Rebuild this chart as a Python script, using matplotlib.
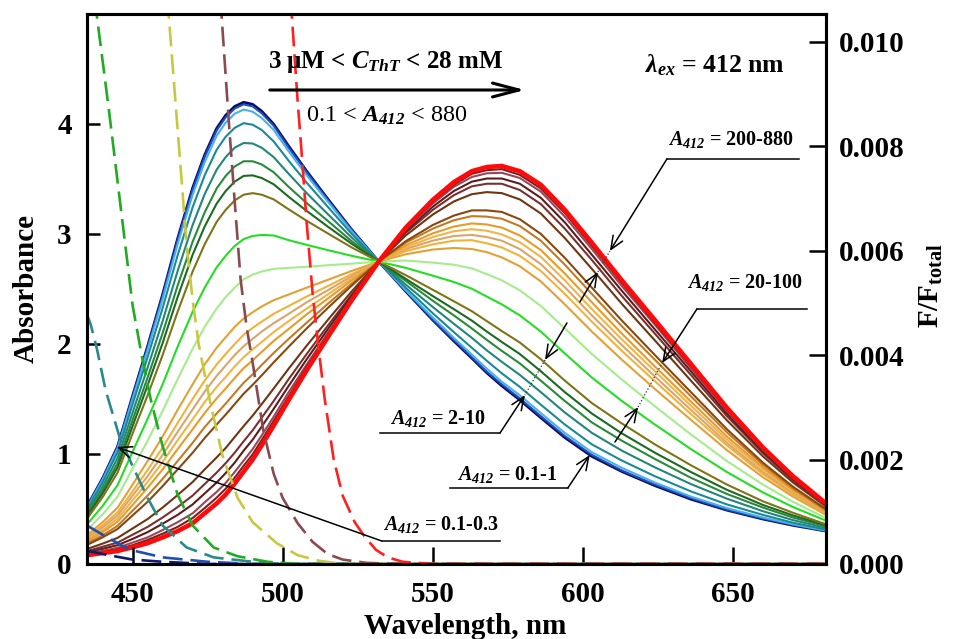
import numpy as np
import matplotlib
matplotlib.use('Agg')
import matplotlib.pyplot as plt

plt.rcParams['font.family'] = ['Liberation Serif', 'DejaVu Serif']
plt.rcParams['font.weight'] = 'bold'
plt.rcParams['axes.labelweight'] = 'bold'
plt.rcParams['mathtext.fontset'] = 'custom'
plt.rcParams['mathtext.it'] = 'Liberation Serif:italic:bold'
plt.rcParams['mathtext.cal'] = 'Liberation Serif:italic:bold'
plt.rcParams['mathtext.sf'] = 'Liberation Serif:italic'
plt.rcParams['mathtext.rm'] = 'Liberation Serif:bold'
plt.rcParams['mathtext.bf'] = 'Liberation Serif:bold'

# ---------------- data ----------------
# emission wavelengths (nm) for fluorescence spectra
wl = [435, 440, 445, 450, 455, 460, 465, 470, 474, 478, 481, 484, 487, 490, 493,
      497, 502, 508, 515, 523, 532, 541, 550, 557, 563, 568, 573, 579, 586, 594,
      603, 613, 624, 636, 648, 660, 670, 681]

# fluorescence spectra, F/F_total x 1e-3 (low -> high ThT concentration)
flu_navy    = [1.12,1.64,2.25,3.22,4.17,5.16,6.23,7.20,7.83,8.34,8.59,8.76,8.84,8.80,8.67,8.42,8.00,7.52,6.99,6.40,5.79,5.22,4.67,4.27,3.94,3.66,3.41,3.14,2.80,2.42,2.06,1.77,1.50,1.24,1.03,0.86,0.74,0.63]
flu_blue    = [1.11,1.63,2.24,3.20,4.15,5.13,6.20,7.16,7.79,8.30,8.55,8.72,8.80,8.76,8.63,8.39,7.97,7.50,6.97,6.39,5.79,5.23,4.68,4.29,3.96,3.68,3.44,3.17,2.83,2.45,2.09,1.79,1.52,1.26,1.04,0.87,0.75,0.63]
flu_ltblue  = [1.10,1.61,2.21,3.16,4.10,5.07,6.12,7.07,7.69,8.20,8.45,8.62,8.70,8.66,8.54,8.31,7.90,7.44,6.94,6.37,5.79,5.24,4.72,4.33,4.01,3.74,3.49,3.23,2.89,2.51,2.14,1.84,1.56,1.29,1.07,0.89,0.76,0.64]
flu_teal1   = [1.07,1.56,2.14,3.06,3.96,4.90,5.91,6.83,7.44,7.93,8.18,8.35,8.44,8.41,8.31,8.09,7.72,7.30,6.84,6.32,5.79,5.29,4.80,4.44,4.14,3.89,3.65,3.39,3.05,2.67,2.29,1.98,1.68,1.39,1.14,0.94,0.79,0.66]
flu_teal2   = [1.02,1.48,2.03,2.90,3.76,4.65,5.61,6.49,7.08,7.55,7.79,7.97,8.06,8.05,7.97,7.79,7.47,7.10,6.70,6.25,5.79,5.35,4.92,4.60,4.33,4.09,3.87,3.62,3.29,2.90,2.51,2.17,1.85,1.53,1.25,1.01,0.84,0.69]
flu_green   = [0.97,1.41,1.93,2.76,3.57,4.42,5.33,6.17,6.73,7.19,7.43,7.61,7.71,7.71,7.65,7.50,7.22,6.91,6.57,6.18,5.79,5.42,5.04,4.76,4.51,4.29,4.08,3.84,3.51,3.12,2.71,2.36,2.01,1.65,1.34,1.08,0.89,0.72]
flu_dkgreen = [0.93,1.35,1.85,2.64,3.42,4.23,5.11,5.92,6.46,6.90,7.14,7.32,7.43,7.44,7.39,7.27,7.03,6.76,6.46,6.13,5.79,5.46,5.13,4.88,4.66,4.45,4.25,4.02,3.69,3.29,2.88,2.50,2.13,1.76,1.42,1.13,0.93,0.74]
flu_olive   = [0.88,1.28,1.75,2.50,3.23,4.00,4.83,5.60,6.12,6.55,6.78,6.96,7.07,7.10,7.07,6.98,6.79,6.57,6.33,6.06,5.79,5.53,5.25,5.03,4.84,4.65,4.46,4.24,3.92,3.51,3.08,2.69,2.29,1.89,1.52,1.20,0.98,0.76]
flu_brgreen = [0.77,1.11,1.51,2.15,2.78,3.44,4.16,4.83,5.29,5.68,5.90,6.09,6.22,6.28,6.30,6.29,6.20,6.11,6.01,5.90,5.79,5.67,5.52,5.40,5.27,5.12,4.97,4.76,4.45,4.03,3.57,3.12,2.67,2.20,1.76,1.37,1.09,0.83]
flu_ltgreen = [0.66,0.95,1.29,1.83,2.36,2.93,3.54,4.12,4.54,4.89,5.11,5.29,5.45,5.54,5.60,5.65,5.67,5.69,5.72,5.75,5.79,5.81,5.77,5.73,5.66,5.55,5.43,5.24,4.94,4.51,4.02,3.53,3.02,2.48,1.97,1.52,1.19,0.88]
flu_or7     = [0.56,0.80,1.08,1.52,1.97,2.44,2.95,3.44,3.82,4.14,4.34,4.54,4.70,4.82,4.93,5.05,5.16,5.29,5.44,5.61,5.79,5.93,6.02,6.05,6.03,5.97,5.87,5.70,5.41,4.97,4.45,3.91,3.35,2.76,2.18,1.66,1.29,0.94]
flu_or6     = [0.52,0.74,0.99,1.39,1.80,2.23,2.70,3.16,3.51,3.82,4.02,4.21,4.39,4.52,4.64,4.79,4.94,5.12,5.32,5.55,5.79,5.99,6.12,6.19,6.20,6.14,6.06,5.90,5.61,5.17,4.64,4.08,3.50,2.87,2.27,1.72,1.33,0.96]
flu_or5     = [0.49,0.70,0.93,1.31,1.68,2.09,2.53,2.96,3.30,3.60,3.80,4.00,4.17,4.31,4.45,4.61,4.79,5.01,5.24,5.51,5.79,6.03,6.19,6.28,6.30,6.26,6.19,6.03,5.74,5.30,4.76,4.19,3.59,2.95,2.32,1.76,1.36,0.98]
flu_or4     = [0.47,0.65,0.87,1.22,1.57,1.95,2.37,2.77,3.10,3.39,3.58,3.78,3.96,4.11,4.25,4.44,4.65,4.89,5.16,5.47,5.79,6.06,6.26,6.37,6.41,6.38,6.31,6.16,5.88,5.43,4.88,4.30,3.69,3.03,2.38,1.81,1.39,1.00]
flu_or3     = [0.44,0.61,0.81,1.13,1.46,1.81,2.20,2.58,2.89,3.17,3.36,3.56,3.75,3.90,4.06,4.27,4.50,4.78,5.08,5.43,5.79,6.10,6.33,6.46,6.52,6.50,6.44,6.29,6.01,5.56,5.01,4.41,3.78,3.11,2.44,1.85,1.42,1.01]
flu_or2     = [0.40,0.55,0.73,1.02,1.31,1.63,1.97,2.32,2.62,2.88,3.07,3.27,3.47,3.63,3.81,4.04,4.31,4.62,4.98,5.37,5.79,6.15,6.42,6.58,6.66,6.65,6.61,6.47,6.19,5.73,5.17,4.55,3.91,3.21,2.52,1.90,1.45,1.03]
flu_brown2  = [0.37,0.51,0.67,0.93,1.19,1.49,1.81,2.13,2.41,2.67,2.86,3.06,3.26,3.43,3.61,3.86,4.16,4.51,4.90,5.33,5.79,6.18,6.49,6.67,6.77,6.77,6.74,6.60,6.32,5.86,5.29,4.66,4.00,3.29,2.58,1.94,1.48,1.05]
flu_brown1  = [0.29,0.39,0.50,0.68,0.86,1.08,1.32,1.57,1.81,2.04,2.22,2.43,2.64,2.84,3.06,3.36,3.74,4.18,4.67,5.22,5.79,6.29,6.69,6.94,7.08,7.12,7.10,6.98,6.71,6.24,5.65,4.98,4.28,3.51,2.75,2.06,1.56,1.10]
flu_maroon4 = [0.25,0.33,0.41,0.56,0.71,0.89,1.09,1.31,1.53,1.75,1.93,2.13,2.35,2.56,2.80,3.12,3.54,4.02,4.56,5.16,5.79,6.34,6.78,7.06,7.23,7.28,7.28,7.16,6.89,6.42,5.82,5.13,4.41,3.62,2.83,2.12,1.60,1.12]
flu_maroon3 = [0.22,0.29,0.36,0.48,0.61,0.77,0.94,1.14,1.35,1.56,1.74,1.94,2.17,2.38,2.63,2.97,3.41,3.92,4.49,5.13,5.79,6.37,6.84,7.14,7.32,7.38,7.38,7.28,7.01,6.54,5.92,5.23,4.49,3.69,2.88,2.15,1.63,1.13]
flu_maroon2 = [0.20,0.25,0.31,0.41,0.51,0.65,0.80,0.97,1.18,1.38,1.55,1.76,1.98,2.20,2.46,2.82,3.29,3.82,4.42,5.09,5.79,6.40,6.90,7.22,7.41,7.48,7.49,7.39,7.13,6.65,6.03,5.32,4.58,3.75,2.93,2.19,1.65,1.14]
flu_maroon1 = [0.18,0.23,0.28,0.36,0.46,0.58,0.71,0.88,1.07,1.27,1.44,1.65,1.88,2.10,2.37,2.74,3.21,3.77,4.38,5.07,5.79,6.42,6.94,7.26,7.47,7.54,7.56,7.45,7.19,6.72,6.09,5.38,4.62,3.79,2.96,2.21,1.67,1.15]
flu_red     = [0.17,0.21,0.25,0.32,0.40,0.51,0.63,0.78,0.97,1.16,1.33,1.54,1.77,2.00,2.27,2.65,3.14,3.71,4.34,5.05,5.79,6.44,6.97,7.31,7.52,7.60,7.62,7.52,7.26,6.78,6.15,5.43,4.67,3.83,2.99,2.23,1.68,1.16]

# absorbance spectra (dashed)
abs_red_wl    = [501, 503, 505, 506, 508, 510, 512, 514, 517, 520, 524, 527, 531, 535, 540, 550, 681]
abs_red       = [5.8, 5.0, 4.2, 3.85, 3.1, 2.45, 1.95, 1.5, 0.95, 0.62, 0.38, 0.26, 0.13, 0.06, 0.02, 0.0, 0.0]
abs_brown_wl  = [478, 479.6, 482, 484, 486, 488, 490, 493.5, 497, 500, 505, 510, 515, 520, 528, 540, 681]
abs_brown     = [5.6, 5.0, 4.04, 3.3, 2.58, 2.15, 1.83, 1.22, 0.82, 0.6, 0.37, 0.2, 0.09, 0.04, 0.01, 0.0, 0.0]
abs_yellow_wl = [460.5, 462, 464, 466, 468, 470, 472, 476, 480, 485, 490, 498, 505, 512, 520, 681]
abs_yellow    = [5.6, 5.0, 4.3, 3.6, 2.9, 2.4, 2.0, 1.45, 0.98, 0.6, 0.38, 0.19, 0.08, 0.03, 0.0, 0.0]
abs_green_wl  = [436.5, 438, 442, 446, 450, 453, 456, 460, 465, 470, 477, 485, 495, 505, 681]
abs_green     = [5.35, 5.0, 4.15, 3.25, 2.35, 1.9, 1.5, 1.07, 0.63, 0.35, 0.15, 0.07, 0.02, 0.0, 0.0]
abs_teal_wl   = [434.8, 436, 438, 441, 445.7, 450, 455, 460, 468, 477, 490, 500, 681]
abs_teal      = [2.27, 2.18, 1.97, 1.58, 1.15, 0.89, 0.60, 0.35, 0.15, 0.06, 0.02, 0.0, 0.0]
abs_blue_wl   = [434.8, 441, 449, 460, 475, 490, 681]
abs_blue      = [0.35, 0.25, 0.13, 0.06, 0.02, 0.0, 0.0]
abs_navy_wl   = [434.8, 442, 450, 460, 475, 681]
abs_navy      = [0.12, 0.08, 0.04, 0.02, 0.0, 0.0]

x_ticks = [450, 500, 550, 600, 650]
y_ticks_left = [0, 1, 2, 3, 4]
y_ticks_right = [0.000, 0.002, 0.004, 0.006, 0.008, 0.010]

# ---------------- styles ----------------
spectra = [flu_navy, flu_blue, flu_ltblue, flu_teal1, flu_teal2, flu_green,
           flu_dkgreen, flu_olive, flu_brgreen, flu_ltgreen, flu_or7, flu_or6,
           flu_or5, flu_or4, flu_or3, flu_or2, flu_brown2, flu_brown1,
           flu_maroon4, flu_maroon3, flu_maroon2, flu_maroon1, flu_red]
spec_colors = ['#0b0b63', '#1f4fbf', '#4ab0e8', '#1b8a96', '#22877a', '#2a8a3a',
               '#1d6a22', '#7f7418', '#25dd25', '#a6ec8c', '#e3a035', '#f2b23a',
               '#dba46e', '#f0b548', '#e89b2a', '#c47a22', '#874811', '#6e3612',
               '#7a3030', '#5e1c1c', '#9a4656', '#7a1e1e', '#ff0a0a']
spec_lw = [2.0] + [1.5] * 21 + [3.3]

dashed = [(abs_navy_wl, abs_navy, '#101870'),
          (abs_blue_wl, abs_blue, '#2050b0'),
          (abs_teal_wl, abs_teal, '#2a8a8a'),
          (abs_green_wl, abs_green, '#22aa22'),
          (abs_yellow_wl, abs_yellow, '#c8c840'),
          (abs_brown_wl, abs_brown, '#8b4a4e'),
          (abs_red_wl, abs_red, '#ff2020')]

# ---------------- figure ----------------
fig = plt.figure(figsize=(9.59, 6.39), dpi=100)
ax = fig.add_axes([0.0907, 0.1174, 0.7706, 0.8607])
ax2 = ax.twinx()
ax.set_zorder(ax2.get_zorder() + 1)
ax.patch.set_visible(False)

wl_arr = np.array(wl)
for vals, c, lw in zip(spectra, spec_colors, spec_lw):
    ax2.plot(wl_arr, np.array(vals) * 1e-3, color=c, lw=lw,
             solid_joinstyle='round', solid_capstyle='round')

for xw, yv, c in dashed:
    ax.plot(xw, yv, color=c, lw=1.9, linestyle=(0, (7.5, 3.0)))

ax.set_xlim(434.8, 681.0)
ax.set_ylim(0, 5.0)
ax2.set_ylim(0, 0.01053)

ax.set_xticks(x_ticks)
ax.set_yticks(y_ticks_left)
ax2.set_yticks(y_ticks_right)
ax2.set_yticklabels(['%.3f' % v for v in y_ticks_right])

ax.tick_params(axis='x', direction='in', length=12, width=1.8, labelsize=21, pad=12, top=False)
ax.tick_params(axis='y', direction='in', length=9, width=1.8, labelsize=21, pad=11, right=False)
ax2.tick_params(axis='y', direction='in', length=12, width=1.8, labelsize=21, pad=9.5)

for a in (ax, ax2):
    for s in a.spines.values():
        s.set_linewidth(2.2)

ax.set_xlabel('Wavelength, nm', fontsize=21)
ax.xaxis.set_label_coords(0.5115, -0.089)
ax.set_ylabel('Absorbance', fontsize=21)
ax.yaxis.set_label_coords(-0.064, 0.5)
ax2.set_ylabel(r'F/F$_{\mathbf{total}}$', fontsize=21)
ax2.yaxis.set_label_coords(1.1245, 0.507)

# ---------------- annotations ----------------
ax.text(495.0, 4.564, r'3 μM < $C_{ThT}$ < 28 mM', fontsize=18,
        ha='left', va='center')
ax.annotate('', xy=(580.7, 4.309), xytext=(495.7, 4.309),
            arrowprops=dict(arrowstyle='->,head_length=1.9,head_width=0.5',
                            lw=2.2, color='black', shrinkA=0, shrinkB=0))
ax.text(507.7, 4.073, r'0.1 < $\mathsf{A}_{\mathsf{412}}$ < 880', fontsize=17.5,
        fontweight='normal', ha='left', va='center')
ax.text(620.7, 4.536, r'$\lambda_{ex}$ = 412 nm', fontsize=18.5,
        ha='left', va='center')

arw = dict(arrowstyle='->,head_length=0.95,head_width=0.4', lw=1.1,
           color='black', shrinkA=0, shrinkB=0)

def callout(tx, ty, text, line_x, line_y, tail, tip):
    ax.text(tx, ty, text, fontsize=14.5, ha='left', va='center')
    ax.plot(line_x, [line_y, line_y], color='black', lw=1.1)
    ax.annotate('', xy=tip, xytext=tail, arrowprops=arw)

callout(628.4, 3.855, r'$A_{\mathcal{412}}$ = 200-880', (628.0, 672.0), 3.682,
        (628.0, 3.682), (609.0, 2.845))
callout(634.7, 2.555, r'$A_{\mathcal{412}}$ = 20-100', (638.0, 674.7), 2.318,
        (638.0, 2.318), (626.4, 1.827))
callout(535.7, 1.327, r'$A_{\mathcal{412}}$ = 2-10', (532.4, 572.4), 1.191,
        (572.4, 1.191), (580.7, 1.536))
callout(558.0, 0.809, r'$A_{\mathcal{412}}$ = 0.1-1', (555.7, 595.0), 0.691,
        (595.0, 0.691), (602.3, 0.991))
callout(533.4, 0.355, r'$A_{\mathcal{412}}$ = 0.1-0.3', (533.0, 572.4), 0.209,
        (533.0, 0.209), (444.7, 1.064))

# paired arrows with dotted connectors
ax.annotate('', xy=(587.4, 1.855), xytext=(594.7, 2.191), arrowprops=arw)
ax.plot([587.4, 580.7], [1.855, 1.536], color='#333333', lw=0.9, ls=':')
ax.annotate('', xy=(618.4, 1.427), xytext=(610.7, 1.109), arrowprops=arw)
ax.plot([618.4, 626.4], [1.427, 1.827], color='#333333', lw=0.9, ls=':')
ax.annotate('', xy=(605.0, 2.655), xytext=(599.0, 2.382), arrowprops=arw)
ax.plot([605.0, 609.0], [2.655, 2.845], color='#333333', lw=0.9, ls=':')

fig.savefig('out.png', dpi=100)
